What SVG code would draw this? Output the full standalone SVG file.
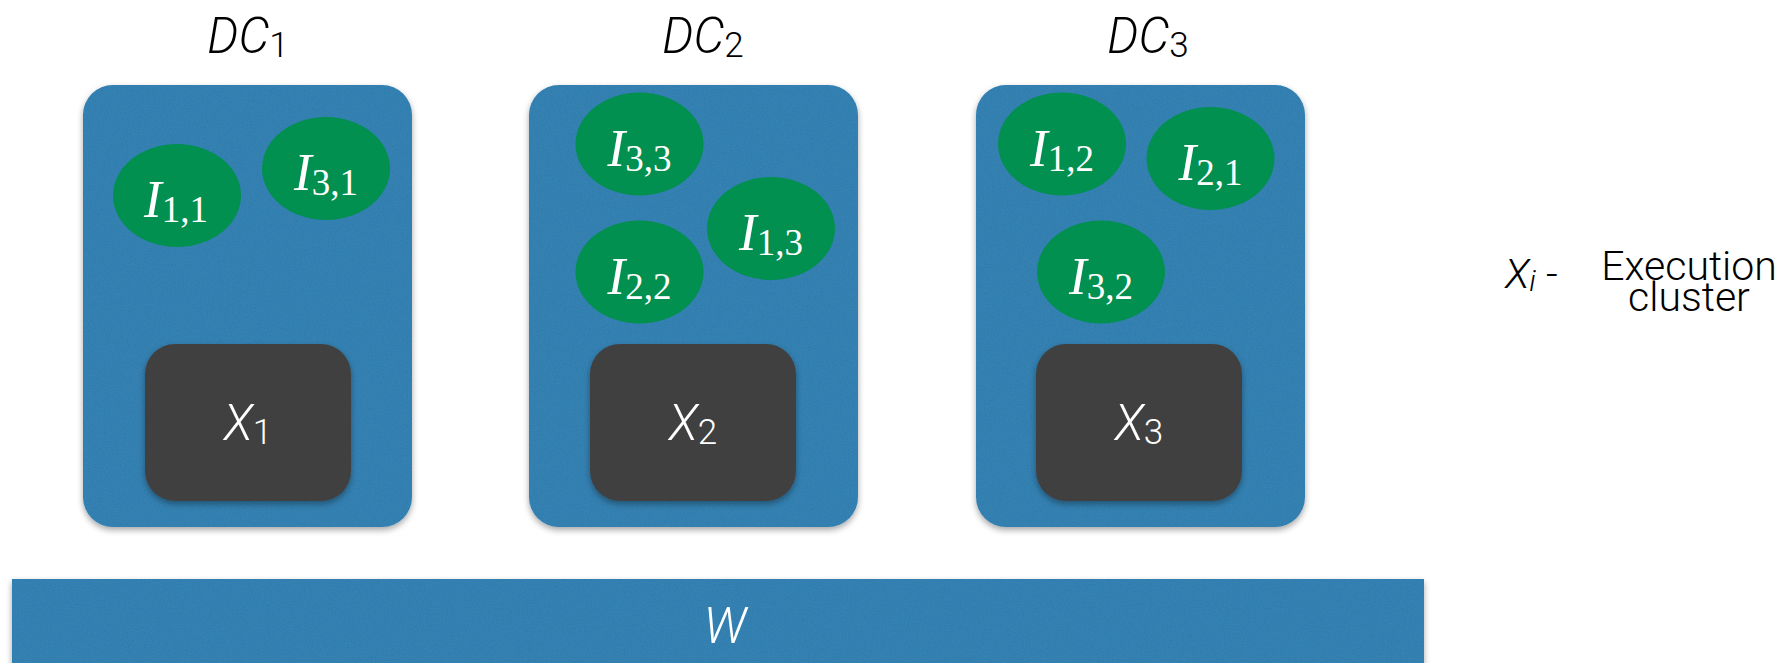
<svg xmlns="http://www.w3.org/2000/svg" width="1782" height="663" viewBox="0 0 1782 663">
  <style>
    .dc { fill: #2b7aae; }
    .exec { fill: #414141; }
    .inst { fill: #01904f; }
    .lbl { font-family: Roboto, "Liberation Sans", sans-serif; font-weight: 300; }
    .dcname { font-size: 49px; font-style: italic; fill: #000; text-anchor: middle; }
    .xname { font-size: 49px; font-style: italic; fill: #fff; text-anchor: middle; }
    .sub { font-style: normal; font-size: 35px; }
    .math { font-family: "Liberation Serif", "DejaVu Serif", serif; font-size: 53px; fill: #fff; text-anchor: middle; }
    .mi { font-style: italic; }
    .msub { font-size: 37px; }
    .legend { font-size: 41px; fill: #000; }
  </style>
  <defs>
    <!-- paper grain on the blue panels -->
    <filter id="paper" x="0" y="0" width="100%" height="100%">
      <feTurbulence type="fractalNoise" baseFrequency="0.7" numOctaves="3" seed="7" result="noise"/>
      <feColorMatrix in="noise" type="matrix" values="0 0 0 0 0.12  0 0 0 0 0.38  0 0 0 0 0.55  0 0 0 0.22 0" result="tint"/>
      <feComposite in="tint" in2="SourceGraphic" operator="in" result="grain"/>
      <feMerge><feMergeNode in="SourceGraphic"/><feMergeNode in="grain"/></feMerge>
    </filter>
    <!-- soft drop shadow under panels and execution boxes -->
    <filter id="shadow" x="-10%" y="-10%" width="120%" height="125%">
      <feDropShadow dx="0" dy="3" stdDeviation="3" flood-color="#000" flood-opacity="0.35"/>
    </filter>
  </defs>

  <!-- data centre titles -->
  <g id="titles" class="lbl">
    <text class="dcname" x="248" y="53">DC<tspan class="sub" dy="4">1</tspan></text>
    <text class="dcname" x="703" y="53">DC<tspan class="sub" dy="4">2</tspan></text>
    <text class="dcname" x="1148" y="53">DC<tspan class="sub" dy="4">3</tspan></text>
  </g>

  <!-- DC1 -->
  <g id="dc1">
    <g filter="url(#shadow)"><rect class="dc" x="83" y="85" width="329" height="442" rx="30" filter="url(#paper)"/></g>
    <g id="x1">
      <rect class="exec" x="145" y="344" width="206" height="157" rx="30" filter="url(#shadow)"/>
      <text class="lbl xname" x="248" y="440">X<tspan class="sub" dy="4">1</tspan></text>
    </g>
    <g id="i11">
      <ellipse class="inst" cx="177" cy="195.5" rx="64" ry="51.5"/>
      <text class="math" x="176" y="217"><tspan class="mi">I</tspan><tspan class="msub" dy="5">1,1</tspan></text>
    </g>
    <g id="i31">
      <ellipse class="inst" cx="326" cy="168.5" rx="64" ry="51.5"/>
      <text class="math" x="326" y="190"><tspan class="mi">I</tspan><tspan class="msub" dy="5">3,1</tspan></text>
    </g>
  </g>

  <!-- DC2 -->
  <g id="dc2">
    <g filter="url(#shadow)"><rect class="dc" x="529" y="85" width="329" height="442" rx="30" filter="url(#paper)"/></g>
    <g id="x2">
      <rect class="exec" x="590" y="344" width="206" height="157" rx="30" filter="url(#shadow)"/>
      <text class="lbl xname" x="693" y="440">X<tspan class="sub" dy="4">2</tspan></text>
    </g>
    <g id="i33">
      <ellipse class="inst" cx="639.5" cy="144" rx="64" ry="51.5"/>
      <text class="math" x="639.5" y="166"><tspan class="mi">I</tspan><tspan class="msub" dy="5">3,3</tspan></text>
    </g>
    <g id="i13">
      <ellipse class="inst" cx="771" cy="228.5" rx="64" ry="51.5"/>
      <text class="math" x="771" y="250"><tspan class="mi">I</tspan><tspan class="msub" dy="5">1,3</tspan></text>
    </g>
    <g id="i22">
      <ellipse class="inst" cx="639.5" cy="272" rx="64" ry="51.5"/>
      <text class="math" x="639.5" y="294"><tspan class="mi">I</tspan><tspan class="msub" dy="5">2,2</tspan></text>
    </g>
  </g>

  <!-- DC3 -->
  <g id="dc3">
    <g filter="url(#shadow)"><rect class="dc" x="976" y="85" width="329" height="442" rx="30" filter="url(#paper)"/></g>
    <g id="x3">
      <rect class="exec" x="1036" y="344" width="206" height="157" rx="30" filter="url(#shadow)"/>
      <text class="lbl xname" x="1139" y="440">X<tspan class="sub" dy="4">3</tspan></text>
    </g>
    <g id="i12">
      <ellipse class="inst" cx="1062" cy="144" rx="64" ry="51.5"/>
      <text class="math" x="1062" y="166"><tspan class="mi">I</tspan><tspan class="msub" dy="5">1,2</tspan></text>
    </g>
    <g id="i21">
      <ellipse class="inst" cx="1210.5" cy="158.5" rx="64" ry="51.5"/>
      <text class="math" x="1210.5" y="180"><tspan class="mi">I</tspan><tspan class="msub" dy="5">2,1</tspan></text>
    </g>
    <g id="i32">
      <ellipse class="inst" cx="1101" cy="272" rx="64" ry="51.5"/>
      <text class="math" x="1101" y="294"><tspan class="mi">I</tspan><tspan class="msub" dy="5">3,2</tspan></text>
    </g>
  </g>

  <!-- shared storage bar -->
  <g id="w">
    <g filter="url(#shadow)"><rect class="dc" x="12" y="579" width="1412" height="90" filter="url(#paper)"/></g>
    <text class="lbl xname" x="725" y="643" font-size="52">W</text>
  </g>

  <!-- legend: symbol plus a two-line caption set tightly -->
  <g id="legend" class="lbl legend">
    <text x="1505" y="288"><tspan font-style="italic">X</tspan><tspan font-style="italic" font-size="30" dy="3">i</tspan><tspan dy="-3"> -</tspan></text>
    <text text-anchor="middle"><tspan x="1689" y="280">Execution</tspan><tspan x="1689" y="311">cluster</tspan></text>
  </g>

  <!-- no connectors in this figure -->
  <g id="connectors"/>
</svg>
